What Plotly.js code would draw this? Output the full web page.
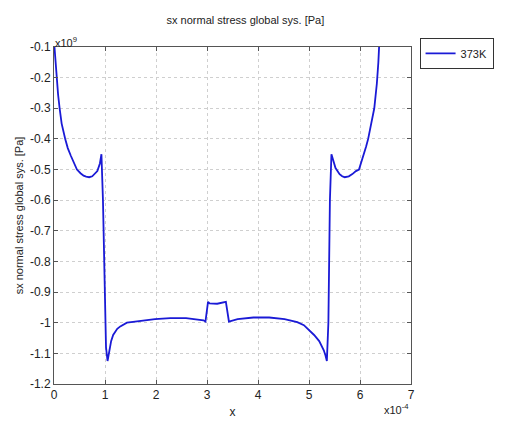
<!DOCTYPE html>
<html>
<head>
<meta charset="utf-8">
<script src="https://cdn.plot.ly/plotly-3.0.1.min.js"></script>
<style>html,body{margin:0;padding:0;background:#fff;}#chart{width:506px;height:421px;}</style>
</head>
<body>
<div id="chart"></div>
<script>
// x in units of 1e-4, stress in units of 1e9 Pa
const xValues = [0, 0.02, 0.05, 0.08, 0.11, 0.15, 0.22, 0.27, 0.33, 0.39, 0.45, 0.52, 0.58, 0.63, 0.69, 0.75, 0.8, 0.85, 0.9, 0.93, 0.96, 0.99, 1.02, 1.05, 1.08, 1.12, 1.16, 1.24, 1.3, 1.43, 1.55, 1.67, 1.98, 2.28, 2.59, 2.93, 2.97, 3.02, 3.05, 3.2, 3.33, 3.37, 3.43, 3.6, 3.91, 4.22, 4.52, 4.77, 4.9, 5.01, 5.1, 5.2, 5.25, 5.29, 5.32, 5.35, 5.38, 5.41, 5.44, 5.47, 5.52, 5.6, 5.65, 5.7, 5.78, 5.85, 5.92, 5.98, 6.03, 6.08, 6.12, 6.16, 6.22, 6.28, 6.33, 6.34, 6.36, 6.38];
const stress373K = [-0.08, -0.13, -0.2, -0.255, -0.3, -0.35, -0.4, -0.43, -0.455, -0.48, -0.5, -0.512, -0.52, -0.523, -0.525, -0.522, -0.515, -0.505, -0.48, -0.45, -0.6, -0.9, -1.08, -1.125, -1.09, -1.06, -1.04, -1.02, -1.012, -1.0, -0.997, -0.994, -0.988, -0.985, -0.985, -0.992, -0.996, -0.932, -0.937, -0.938, -0.935, -0.932, -0.996, -0.988, -0.983, -0.983, -0.988, -0.998, -1.008, -1.025, -1.04, -1.06, -1.075, -1.09, -1.105, -1.125, -1.0, -0.6, -0.45, -0.47, -0.495, -0.515, -0.522, -0.525, -0.522, -0.515, -0.505, -0.5, -0.475, -0.45, -0.425, -0.4, -0.35, -0.3, -0.22, -0.2, -0.15, -0.08];
const xTicks = [0, 1, 2, 3, 4, 5, 6, 7];
const yTicks = [-1.2, -1.1, -1, -0.9, -0.8, -0.7, -0.6, -0.5, -0.4, -0.3, -0.2, -0.1];
const yTickLabels = ['-1.2', '-1.1', '-1', '-0.9', '-0.8', '-0.7', '-0.6', '-0.5', '-0.4', '-0.3', '-0.2', '-0.1'];
const seriesName = '373K';
const titleText = 'sx normal stress global sys. [Pa]';

const font = {family: 'Liberation Sans, Arial, sans-serif', size: 11, color: '#222'};

const trace = {
  x: xValues, y: stress373K, name: seriesName, type: 'scatter', mode: 'lines',
  line: {color: '#1a1ad6', width: 1.8}
};

const axisCommon = {
  showline: true, linecolor: '#555', linewidth: 1, mirror: 'allticks',
  ticks: 'inside', ticklen: 4, tickcolor: '#555',
  showgrid: true, gridcolor: '#cfcfcf', griddash: 'dot', gridwidth: 1,
  zeroline: false, tickfont: {family: font.family, size: 12, color: '#222'}
};

const layout = {
  width: 506, height: 421,
  margin: {l: 54, r: 71, t: 47, b: 37},
  paper_bgcolor: '#fff', plot_bgcolor: '#fff',
  font: font,
  title: {text: titleText, font: {family: font.family, size: 11, color: '#222'}, x: 0.485, xanchor: 'center', y: 0.953, yref: 'container', yanchor: 'middle'},
  xaxis: Object.assign({}, axisCommon, {
    range: [0, 7], tickvals: xTicks, ticktext: xTicks.map(String),
    title: {text: 'x', font: {family: font.family, size: 12, color: '#222'}, standoff: 6}
  }),
  yaxis: Object.assign({}, axisCommon, {
    range: [-1.2, -0.1], tickvals: yTicks, ticktext: yTickLabels,
    title: {text: titleText, font: {family: font.family, size: 11, color: '#222'}, standoff: 4}
  }),
  showlegend: true,
  legend: {
    x: 1.024, y: 1.027, xanchor: 'left', yanchor: 'top',
    bordercolor: '#333', borderwidth: 1, bgcolor: '#fff',
    font: {family: font.family, size: 11, color: '#222'},
    itemwidth: 30, tracegroupgap: 0
  },
  annotations: [
    {xref: 'paper', yref: 'paper', x: 0.0, y: 1.0, xanchor: 'left', yanchor: 'bottom', showarrow: false,
     text: 'x10<sup>9</sup>', font: {family: font.family, size: 11, color: '#222'}, yshift: -4, xshift: -1},
    {xref: 'paper', yref: 'paper', x: 1.0, y: 0, xanchor: 'right', yanchor: 'top', showarrow: false,
     text: 'x10<sup>-4</sup>', font: {family: font.family, size: 11, color: '#222'}, yshift: -16}
  ]
};

Plotly.newPlot('chart', [trace], layout, {displayModeBar: false, staticPlot: true});
</script>
</body>
</html>
